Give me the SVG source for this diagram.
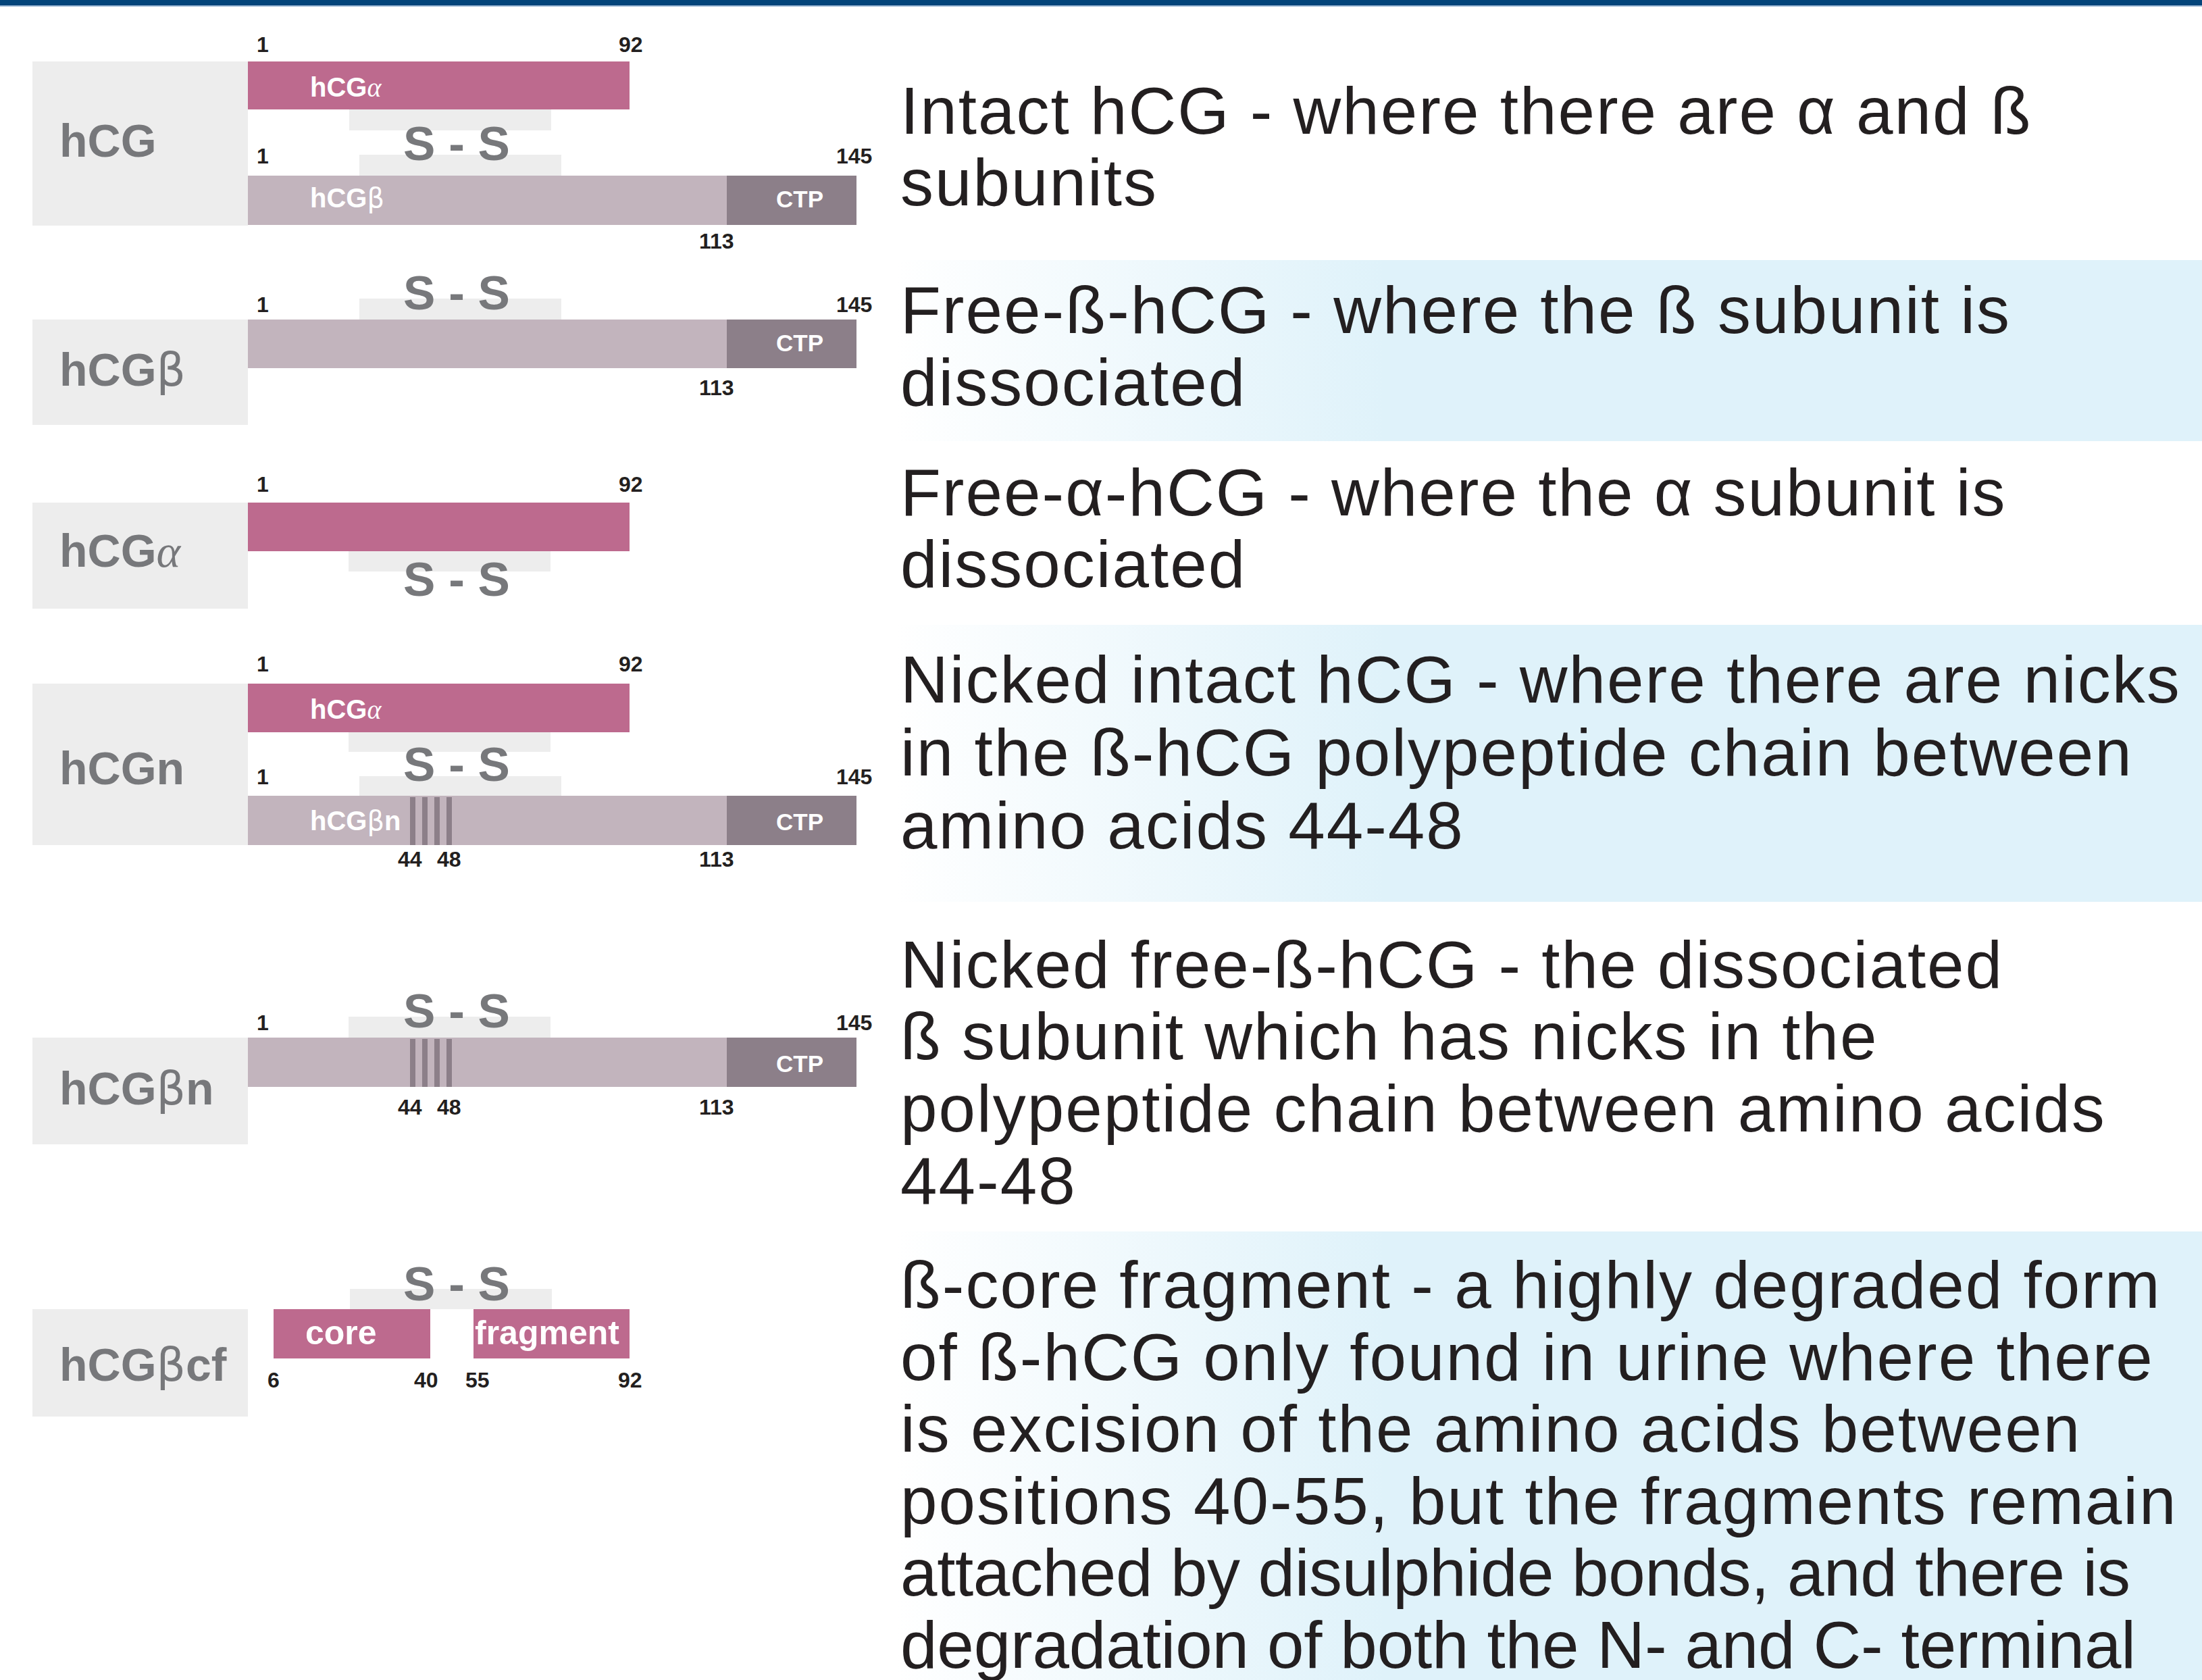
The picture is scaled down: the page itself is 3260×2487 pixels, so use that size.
<svg xmlns="http://www.w3.org/2000/svg" width="3260" height="2487" viewBox="0 0 3260 2487">
<defs>
<linearGradient id="band" gradientUnits="userSpaceOnUse" x1="1328" y1="0" x2="2050" y2="0">
<stop offset="0" stop-color="#ffffff"/>
<stop offset="1" stop-color="#dff2fa"/>
</linearGradient>
<style>
.box{fill:#ededed}
.ss{fill:#ededed}
.alpha{fill:#bd6a8e}
.beta{fill:#c2b4bd}
.ctp{fill:#8c7f89}
.nick{fill:#8c7f89}
.lbl{font-family:"Liberation Sans",Arial,sans-serif;font-weight:bold;font-size:68px;fill:#77787b}
.sst{font-family:"Liberation Sans",Arial,sans-serif;font-weight:bold;font-size:71px;fill:#77787b;text-anchor:middle}
.num{font-family:"Liberation Sans",Arial,sans-serif;font-weight:bold;font-size:32px;fill:#231f20}
.in{font-family:"Liberation Sans",Arial,sans-serif;font-weight:bold;font-size:40px;fill:#ffffff}
.ctpt{font-family:"Liberation Sans",Arial,sans-serif;font-weight:bold;font-size:35px;fill:#ffffff}
.frag{font-family:"Liberation Sans",Arial,sans-serif;font-weight:bold;font-size:50px;fill:#ffffff}
.gr{font-family:"Liberation Serif",serif;font-style:italic;font-weight:normal}
.gb{font-family:"DejaVu Sans",sans-serif;font-weight:normal}
.desc{font-family:"Liberation Sans",Arial,sans-serif;font-size:98px;letter-spacing:2px;fill:#231f20}
.bandr{fill:url(#band)}
</style>
</defs>
<rect x="0" y="0" width="3260" height="2487" fill="#ffffff"/>
<rect x="0" y="0" width="3260" height="8" fill="#03447a"/>
<rect x="0" y="8" width="3260" height="2" fill="#a8c0da"/>

<g id="bands">
<rect class="bandr" x="1328" y="385" width="1932" height="268"/>
<rect class="bandr" x="1328" y="925" width="1932" height="410"/>
<rect class="bandr" x="1328" y="1823" width="1932" height="664"/>
</g>

<g id="connectors"></g>

<g id="row-hCG">
<rect class="box" x="48" y="91" width="319" height="243"/>
<rect class="ss" x="517" y="162" width="299" height="31"/>
<rect class="ss" x="532" y="229" width="299" height="31"/>
<rect class="alpha" x="367" y="91" width="565" height="71"/>
<rect class="beta" x="367" y="260" width="709" height="73"/>
<rect class="ctp" x="1076" y="260" width="192" height="73"/>
<text class="lbl" x="88" y="232">hCG</text>
<text class="sst" x="676" y="237">S - S</text>
<text class="in" x="459" y="143">hCG<tspan class="gr">α</tspan></text>
<text class="in" x="459" y="307">hCG<tspan class="gb">β</tspan></text>
<text class="ctpt" x="1149" y="307">CTP</text>
<text class="num" x="380" y="77">1</text>
<text class="num" x="916" y="77">92</text>
<text class="num" x="380" y="242">1</text>
<text class="num" x="1238" y="242">145</text>
<text class="num" x="1035" y="368">113</text>
<text class="desc" x="1333" y="198">Intact hCG - where there are α and ß</text>
<text class="desc" x="1333" y="304">subunits</text>
</g>

<g id="row-hCGbeta">
<rect class="box" x="48" y="473" width="319" height="156"/>
<rect class="ss" x="532" y="442" width="299" height="31"/>
<rect class="beta" x="367" y="473" width="709" height="72"/>
<rect class="ctp" x="1076" y="473" width="192" height="72"/>
<text class="lbl" x="88" y="571">hCG<tspan class="gb">β</tspan></text>
<text class="sst" x="676" y="458">S - S</text>
<text class="ctpt" x="1149" y="520">CTP</text>
<text class="num" x="380" y="462">1</text>
<text class="num" x="1238" y="462">145</text>
<text class="num" x="1035" y="585">113</text>
<text class="desc" x="1333" y="493">Free-ß-hCG - where the ß subunit is</text>
<text class="desc" x="1333" y="600">dissociated</text>
</g>

<g id="row-hCGalpha">
<rect class="box" x="48" y="744" width="319" height="157"/>
<rect class="ss" x="516" y="816" width="299" height="30"/>
<rect class="alpha" x="367" y="744" width="565" height="72"/>
<text class="lbl" x="88" y="839">hCG<tspan class="gr">α</tspan></text>
<text class="sst" x="676" y="882">S - S</text>
<text class="num" x="380" y="728">1</text>
<text class="num" x="916" y="728">92</text>
<text class="desc" x="1333" y="763">Free-α-hCG - where the α subunit is</text>
<text class="desc" x="1333" y="869">dissociated</text>
</g>

<g id="row-hCGn">
<rect class="box" x="48" y="1012" width="319" height="239"/>
<rect class="ss" x="516" y="1084" width="299" height="29"/>
<rect class="ss" x="532" y="1149" width="299" height="29"/>
<rect class="alpha" x="367" y="1012" width="565" height="72"/>
<rect class="beta" x="367" y="1178" width="709" height="73"/>
<rect class="ctp" x="1076" y="1178" width="192" height="73"/>
<rect class="nick" x="607" y="1180" width="8" height="71"/>
<rect class="nick" x="625" y="1180" width="8" height="71"/>
<rect class="nick" x="643" y="1180" width="8" height="71"/>
<rect class="nick" x="661" y="1180" width="8" height="71"/>
<text class="lbl" x="88" y="1161">hCGn</text>
<text class="sst" x="676" y="1156">S - S</text>
<text class="in" x="459" y="1064">hCG<tspan class="gr">α</tspan></text>
<text class="in" x="459" y="1229">hCG<tspan class="gb">β</tspan>n</text>
<text class="ctpt" x="1149" y="1229">CTP</text>
<text class="num" x="380" y="994">1</text>
<text class="num" x="916" y="994">92</text>
<text class="num" x="380" y="1161">1</text>
<text class="num" x="1238" y="1161">145</text>
<text class="num" x="589" y="1283">44</text>
<text class="num" x="647" y="1283">48</text>
<text class="num" x="1035" y="1283">113</text>
<text class="desc" x="1333" y="1040">Nicked intact hCG - where there are nicks</text>
<text class="desc" x="1333" y="1148">in the ß-hCG polypeptide chain between</text>
<text class="desc" x="1333" y="1256">amino acids 44-48</text>
</g>

<g id="row-hCGbetan">
<rect class="box" x="48" y="1536" width="319" height="158"/>
<rect class="ss" x="516" y="1505" width="299" height="31"/>
<rect class="beta" x="367" y="1536" width="709" height="73"/>
<rect class="ctp" x="1076" y="1536" width="192" height="73"/>
<rect class="nick" x="607" y="1538" width="8" height="71"/>
<rect class="nick" x="625" y="1538" width="8" height="71"/>
<rect class="nick" x="643" y="1538" width="8" height="71"/>
<rect class="nick" x="661" y="1538" width="8" height="71"/>
<text class="lbl" x="88" y="1635">hCG<tspan class="gb">β</tspan>n</text>
<text class="sst" x="676" y="1521">S - S</text>
<text class="ctpt" x="1149" y="1587">CTP</text>
<text class="num" x="380" y="1525">1</text>
<text class="num" x="1238" y="1525">145</text>
<text class="num" x="589" y="1650">44</text>
<text class="num" x="647" y="1650">48</text>
<text class="num" x="1035" y="1650">113</text>
<text class="desc" x="1333" y="1462">Nicked free-ß-hCG - the dissociated</text>
<text class="desc" x="1333" y="1568">ß subunit which has nicks in the</text>
<text class="desc" x="1333" y="1675">polypeptide chain between amino acids</text>
<text class="desc" x="1333" y="1782">44-48</text>
</g>

<g id="row-hCGbetacf">
<rect class="box" x="48" y="1938" width="319" height="159"/>
<rect class="ss" x="518" y="1908" width="299" height="30"/>
<rect class="alpha" x="405" y="1938" width="232" height="73"/>
<rect class="alpha" x="701" y="1938" width="231" height="73"/>
<text class="lbl" x="88" y="2044">hCG<tspan class="gb">β</tspan>cf</text>
<text class="sst" x="676" y="1925">S - S</text>
<text class="frag" x="452" y="1990">core</text>
<text class="frag" x="703" y="1990">fragment</text>
<text class="num" x="396" y="2054">6</text>
<text class="num" x="613" y="2054">40</text>
<text class="num" x="689" y="2054">55</text>
<text class="num" x="915" y="2054">92</text>
<text class="desc" x="1333" y="1936">ß-core fragment - a highly degraded form</text>
<text class="desc" x="1333" y="2043">of ß-hCG only found in urine where there</text>
<text class="desc" x="1333" y="2149">is excision of the amino acids between</text>
<text class="desc" x="1333" y="2256">positions 40-55, but the fragments remain</text>
<text class="desc" x="1333" y="2362" textLength="1823" lengthAdjust="spacing">attached by disulphide bonds, and there is</text>
<text class="desc" x="1333" y="2469" textLength="1831" lengthAdjust="spacing">degradation of both the N- and C- terminal</text>
</g>
</svg>
